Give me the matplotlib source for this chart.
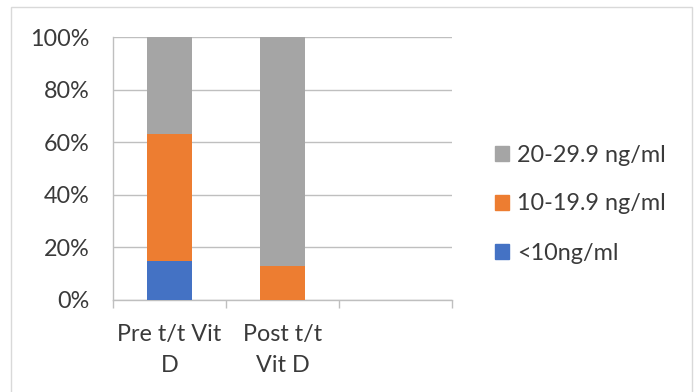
import matplotlib
matplotlib.use('Agg')
import matplotlib.pyplot as plt
import matplotlib.patches as mpatches
from matplotlib.ticker import FuncFormatter, FixedLocator

# Vitamin D levels, share of patients per group (%)
groups = ['Pre t/t Vit\nD', 'Post t/t\nVit D']
levels = ['<10ng/ml', '10-19.9 ng/ml', '20-29.9 ng/ml']
below_10 = [15, 0]
from_10_to_20 = [48, 13]
from_20_to_30 = [37, 87]
colors = ['#4472C4', '#ED7D31', '#A5A5A5']

plt.rcParams['font.family'] = ['Lato', 'DejaVu Sans']
text_col = '#3A3A3A'
grid_col = '#BFBFBF'
fs = 16.8

fig = plt.figure(figsize=(6.96, 3.92), dpi=100)
ax = fig.add_axes([113/696, 92/392, 339/696, 263/392])

x = list(range(len(groups)))
series = [below_10, from_10_to_20, from_20_to_30]
bottom = [0] * len(groups)
handles = []
for vals, col, lab in zip(series, colors, levels):
    ax.bar(x, vals, width=0.39, bottom=bottom, color=col, label=lab, zorder=3)
    bottom = [b + v for b, v in zip(bottom, vals)]
    handles.append(mpatches.Patch(color=col, label=lab))

# three category slots, third one left empty
ax.set_xlim(-0.5, 2.5)
ax.set_ylim(0, 100)
ax.set_yticks(range(0, 101, 20))
ax.yaxis.set_major_formatter(FuncFormatter(lambda v, _: f'{int(v)}%'))
ax.set_xticks(x)
ax.set_xticklabels(groups, linespacing=1.6)
ax.xaxis.set_minor_locator(FixedLocator([-0.5, 0.5, 1.5, 2.5]))
ax.tick_params(axis='x', which='major', length=0, pad=17, labelsize=fs, colors=text_col)
ax.tick_params(axis='x', which='minor', length=6, width=1, color=grid_col, direction='out')
ax.tick_params(axis='y', length=0, pad=17, labelsize=fs, colors=text_col)
ax.grid(axis='y', color=grid_col, linewidth=1, zorder=0)
for side in ['top', 'right']:
    ax.spines[side].set_visible(False)
for side in ['left', 'bottom']:
    ax.spines[side].set_color(grid_col)
    ax.spines[side].set_linewidth(1)

fig.legend(handles=handles[::-1], loc='center left',
           bbox_to_anchor=(495/696, (392 - 204)/392), frameon=False,
           fontsize=fs, labelcolor=text_col, handlelength=0.6, handleheight=0.6,
           handletextpad=0.35, labelspacing=1.2, borderpad=0, borderaxespad=0)

# chart area border
fig.add_artist(mpatches.Rectangle((11/696, -0.01), 681/696, 1 - 7/392 + 0.01,
                                  transform=fig.transFigure, fill=False,
                                  edgecolor='#D9D9D9', linewidth=1))

fig.savefig('out.png', dpi=100, facecolor='white')
